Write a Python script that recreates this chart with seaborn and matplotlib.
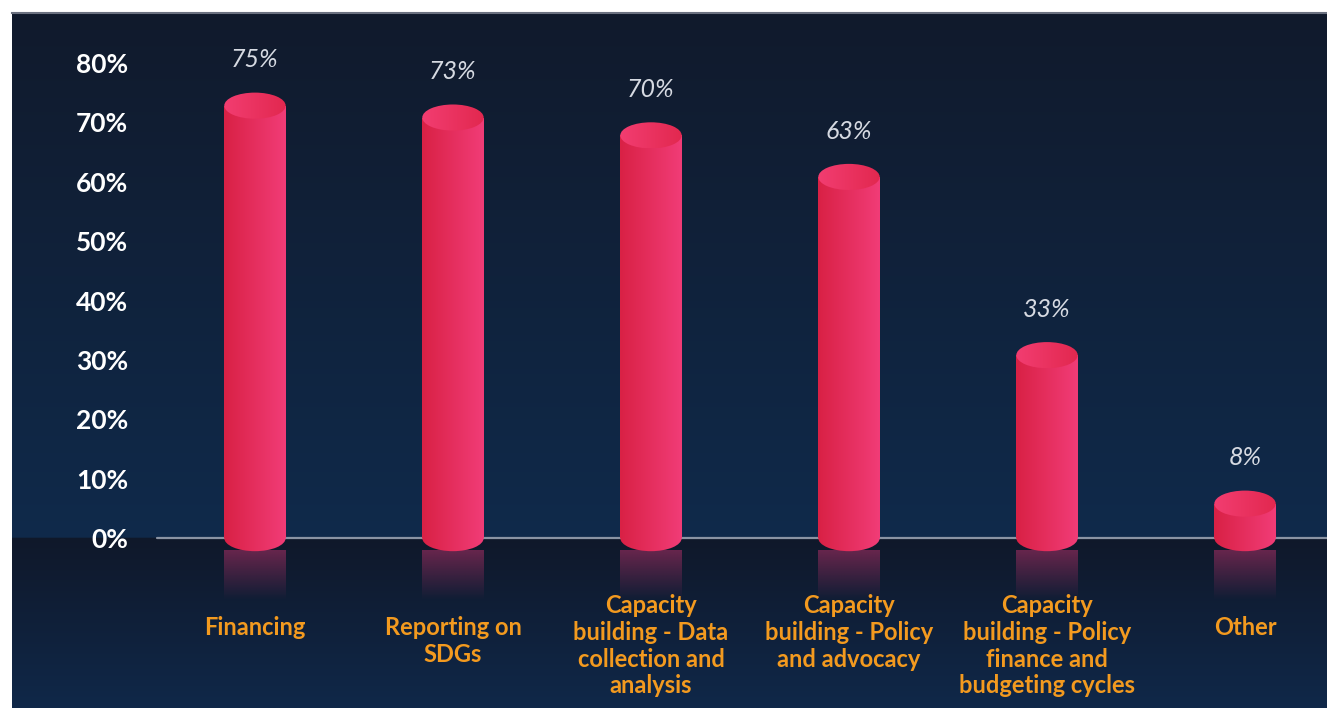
import numpy as np
import matplotlib
matplotlib.use("Agg")
import matplotlib.pyplot as plt
import matplotlib.colors as mcolors
from matplotlib.patches import Ellipse
import seaborn as sns

categories = ["Financing", "Reporting on\nSDGs",
              "Capacity\nbuilding - Data\ncollection and\nanalysis",
              "Capacity\nbuilding - Policy\nand advocacy",
              "Capacity\nbuilding - Policy\nfinance and\nbudgeting cycles",
              "Other"]
values = [75, 73, 70, 63, 33, 8]
ytick_vals = [0, 10, 20, 30, 40, 50, 60, 70, 80]
ytick_labels = [f"{t}%" for t in ytick_vals]

sns.set_theme(style="white")
plt.rcParams['font.family'] = ['Lato', 'DejaVu Sans']

fig = plt.figure(figsize=(13.27, 7.08), dpi=100, facecolor="white")
ax = fig.add_axes([12 / 1327, 0, 1315 / 1327, 695 / 708])

YMIN, YMAX = -28.6, 88.4
XMIN, XMAX = -1.227, 5.414
EH = 4.4  # height of the cylinder caps in data units

sns.barplot(x=list(range(len(values))), y=values, color="#e42a58",
            width=0.31, ax=ax, zorder=3)

# background: two vertical gradients split at the baseline
ys = np.linspace(YMAX, YMIN, 600)
def mix(c1, c2, t):
    a = np.array(mcolors.to_rgb(c1)); b = np.array(mcolors.to_rgb(c2))
    return a + (b - a) * t
bg = np.zeros((len(ys), 2, 3))
for k, yv in enumerate(ys):
    if yv >= 0:
        col = mix("#0f2a4b", "#111a2c", yv / YMAX)
    else:
        col = mix("#10182a", "#0f2849", yv / YMIN)
    bg[k, :, :] = col
ax.imshow(bg, extent=[XMIN, XMAX, YMIN, YMAX], aspect="auto", zorder=0,
          interpolation="bilinear")

# horizontal gradient for the cylinder side
side = np.zeros((2, 100, 3))
for j in range(100):
    t = j / 99
    side[:, j, :] = mix("#d92145", "#f13c77", t)
cap = np.zeros((2, 100, 3))
for j in range(100):
    t = j / 99
    cap[:, j, :] = mix("#f23d71", "#e2284f", t)

for p, v in zip(ax.patches, values):
    x0, w = p.get_x(), p.get_width()
    xc = x0 + w / 2
    p.set_height(v - EH / 2)
    p.set_facecolor("none")
    p.set_edgecolor("none")
    im = ax.imshow(side, extent=[x0, x0 + w, -EH, v], aspect="auto",
                   zorder=3, interpolation="bilinear")
    im.set_clip_path(p)
    bot = Ellipse((xc, 0), w, EH, facecolor="none", edgecolor="none", zorder=3)
    ax.add_patch(bot)
    im2 = ax.imshow(side, extent=[x0, x0 + w, -EH, v], aspect="auto",
                    zorder=3, interpolation="bilinear")
    im2.set_clip_path(bot)
    top = Ellipse((xc, v - EH / 2), w, EH, facecolor="none", edgecolor="none", zorder=4)
    ax.add_patch(top)
    im3 = ax.imshow(cap, extent=[x0, x0 + w, v - EH, v], aspect="auto",
                    zorder=4, interpolation="bilinear")
    im3.set_clip_path(top)
    # reflection below the baseline
    refl = np.zeros((100, 2, 4))
    refl[:, :, :3] = mcolors.to_rgb("#c0336e")
    refl[:, :, 3] = np.linspace(0.5, 0.0, 100)[:, None]
    ax.imshow(refl, extent=[x0, x0 + w, -10.5, -EH / 2], aspect="auto",
              zorder=2, interpolation="bilinear")
    ax.text(xc, v + 5.5, f"{v}%", ha="center", va="center", fontsize=18,
            color="#d6dae2", style="italic", fontweight="normal")

for i, lab in enumerate(categories):
    n = lab.count("\n") + 1
    ytop = -13.1 if n <= 2 else -9.4
    ax.text(i, ytop, lab, ha="center", va="top", fontsize=17,
            fontweight="bold", color="#f39a1f", linespacing=1.2)

ax.axhline(0, xmin=145 / 1315, xmax=1, color="#8a93a3", lw=1.6, zorder=2.5)

ax.set_xlim(XMIN, XMAX)
ax.set_ylim(YMIN, YMAX)
ax.set_xticks([])
ax.set_yticks(ytick_vals, ytick_labels, fontweight="bold")
ax.tick_params(axis="y", length=0, pad=-83.5, labelsize=19, labelcolor="white")
for s in ["left", "right", "bottom"]:
    ax.spines[s].set_visible(False)
ax.spines["top"].set_color("#6b7180")
ax.spines["top"].set_linewidth(1.5)
ax.set_xlabel("")
ax.set_ylabel("")

fig.savefig("out.png", dpi=100, facecolor="white")
